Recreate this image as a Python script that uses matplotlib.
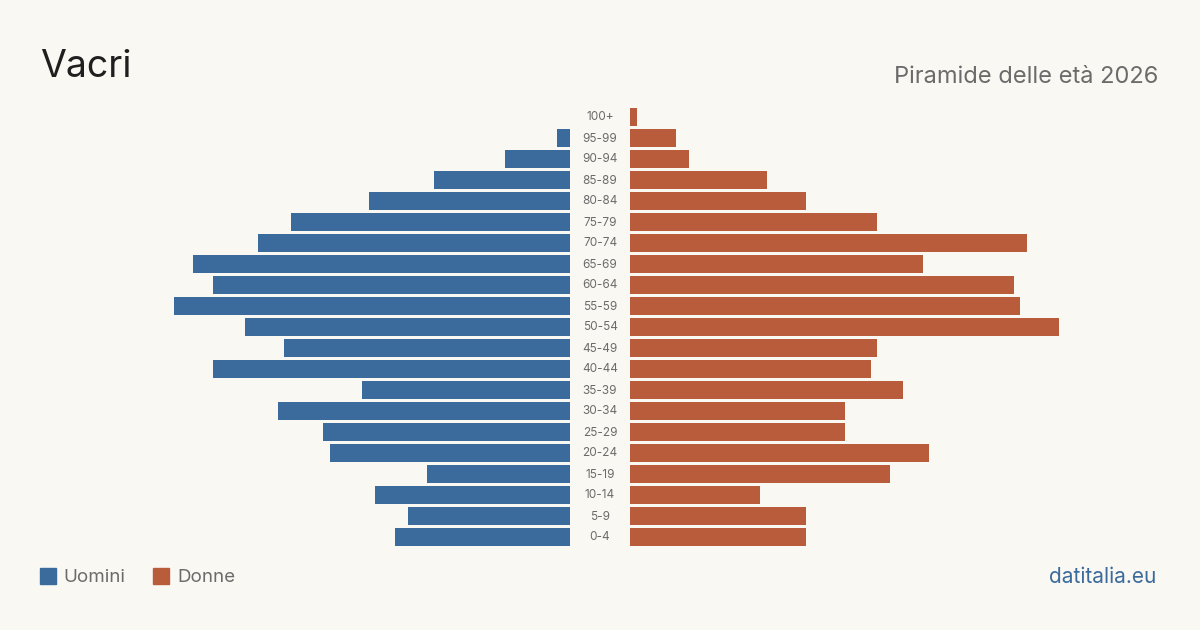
import numpy as np
import matplotlib.pyplot as plt
from matplotlib.patches import Rectangle

plt.rcParams['font.family'] = ['Inter', 'DejaVu Sans']

ages = ['0-4', '5-9', '10-14', '15-19', '20-24', '25-29', '30-34', '35-39',
        '40-44', '45-49', '50-54', '55-59', '60-64', '65-69', '70-74',
        '75-79', '80-84', '85-89', '90-94', '95-99', '100+']
uomini = [27, 25, 30, 22, 37, 38, 45, 32, 55, 44, 50, 61, 55, 58, 48,
          43, 31, 21, 10, 2, 0]
donne = [27, 27, 20, 40, 46, 33, 33, 42, 37, 38, 66, 60, 59, 45, 61,
         38, 27, 21, 9, 7, 1]

BG = '#f9f8f3'
BLUE = '#3b6b9c'
RED = '#b95c3c'
W, H = 1200, 630
PX = 6.5  # pixels per person

fig = plt.figure(figsize=(12, 6.3), dpi=100, facecolor=BG)

top, bottom = 106.5, 547.5
ax_l = fig.add_axes([40 / W, 1 - bottom / H, 530 / W, (bottom - top) / H])
ax_r = fig.add_axes([630 / W, 1 - bottom / H, 530 / W, (bottom - top) / H])

y = np.arange(len(ages))
ax_l.barh(y, uomini, height=0.81, color=BLUE)
ax_r.barh(y, donne, height=0.81, color=RED)

for ax in (ax_l, ax_r):
    ax.set_facecolor('none')
    ax.set_ylim(-0.5, len(ages) - 0.5)
    ax.set_xlim(0, 530 / PX)
    ax.axis('off')
ax_l.invert_xaxis()

for i, lab in enumerate(ages):
    yy = 1 - (537.5 - 21 * i) / H
    fig.text(600 / W, yy, lab, ha='center', va='center', fontsize=8.5,
             color='#6b6b6b')

fig.text(40 / W, 1 - 67 / H, 'Vacri', fontsize=27, color='#1f1f1f',
         ha='left', va='center')
fig.text(1158 / W, 1 - 77 / H, 'Piramide delle età 2026', fontsize=17,
         color='#6b6b6b', ha='right', va='center')

# legend
fig.patches.append(Rectangle((40 / W, 1 - 584 / H), 16 / W, 16 / H,
                             transform=fig.transFigure, color=BLUE))
fig.text(63 / W, 1 - 577 / H, 'Uomini', fontsize=13.5, color='#6b6b6b',
         ha='left', va='center')
fig.patches.append(Rectangle((153 / W, 1 - 584 / H), 16 / W, 16 / H,
                             transform=fig.transFigure, color=RED))
fig.text(177 / W, 1 - 577 / H, 'Donne', fontsize=13.5, color='#6b6b6b',
         ha='left', va='center')

fig.text(1156 / W, 1 - 577 / H, 'datitalia.eu', fontsize=15, color=BLUE,
         ha='right', va='center')

fig.savefig('out.png', dpi=100, facecolor=BG)
